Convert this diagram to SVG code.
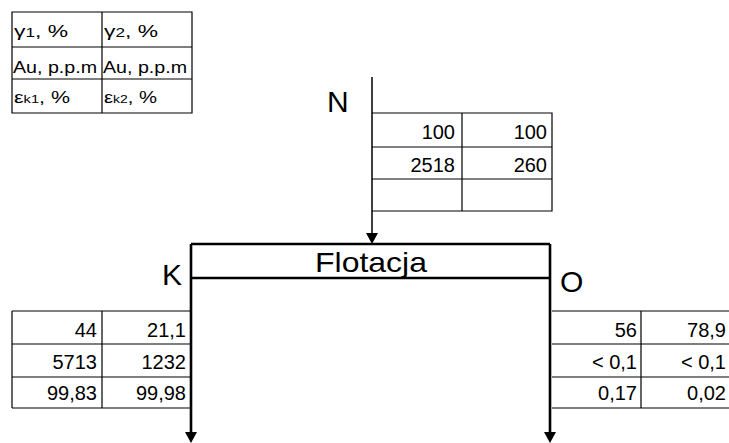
<svg xmlns="http://www.w3.org/2000/svg" width="729" height="443" viewBox="0 0 729 443">
<style>
.t{font-family:"Liberation Sans",Arial,sans-serif;fill:#000}
.num{font-size:20px;text-anchor:end}
.leg{font-size:16px}
.big{font-size:30px}
.grid{stroke:#000;stroke-width:1.2;fill:none}
.thick{stroke:#000;stroke-width:2.6;fill:none}
.arrow{fill:#000}
</style>
<rect width="729" height="443" fill="#fff"/>
<g id="legend">
<path class="grid" d="M12 12H192V113H12Z M12 47H192 M12 79H192 M102 12V113"/>
<text class="t leg" x="14" y="37" textLength="54" lengthAdjust="spacingAndGlyphs">γ<tspan font-size="12">1</tspan>, %</text>
<text class="t leg" x="104" y="37" textLength="54" lengthAdjust="spacingAndGlyphs">γ<tspan font-size="12">2</tspan>, %</text>
<text class="t leg" x="13" y="73" textLength="84" lengthAdjust="spacingAndGlyphs">Au, p.p.m</text>
<text class="t leg" x="103" y="73" textLength="84" lengthAdjust="spacingAndGlyphs">Au, p.p.m</text>
<text class="t leg" x="14" y="103" textLength="56" lengthAdjust="spacingAndGlyphs">ε<tspan font-size="11">k1</tspan>, %</text>
<text class="t leg" x="104" y="103" textLength="53" lengthAdjust="spacingAndGlyphs">ε<tspan font-size="11">k2</tspan>, %</text>
</g>
<g id="feed-N">
<text class="t big" x="327" y="112">N</text>
<path class="grid" d="M372 113H552V211H372 M372 147H552 M372 179H552 M462 113V211"/>
<text class="t num" x="455" y="139">100</text>
<text class="t num" x="547" y="139">100</text>
<text class="t num" x="455" y="172">2518</text>
<text class="t num" x="547" y="172">260</text>
</g>
<g id="flotacja">
<path class="thick" d="M191 244H550 M191 278H550 M191 244V278 M550 244V278"/>
<text class="t" x="315" y="272" font-size="28" textLength="112" lengthAdjust="spacingAndGlyphs">Flotacja</text>
</g>
<g id="output-K">
<text class="t big" x="162" y="285">K</text>
<path class="grid" d="M12 311H192 M12 344H192 M12 377H192 M12 408H192 M12 311V408 M102 311V408"/>
<text class="t num" x="97" y="337">44</text>
<text class="t num" x="186" y="337">21,1</text>
<text class="t num" x="97" y="369">5713</text>
<text class="t num" x="186" y="369">1232</text>
<text class="t num" x="97" y="400">99,83</text>
<text class="t num" x="186" y="400">99,98</text>
</g>
<g id="output-O">
<text class="t big" x="560" y="292">O</text>
<path class="grid" d="M552 311H729 M552 344H729 M552 377H729 M552 408H729 M641 311V408"/>
<text class="t num" x="637" y="337">56</text>
<text class="t num" x="726" y="337">78,9</text>
<text class="t num" x="637" y="369">&lt; 0,1</text>
<text class="t num" x="726" y="369">&lt; 0,1</text>
<text class="t num" x="637" y="400">0,17</text>
<text class="t num" x="726" y="400">0,02</text>
</g>
<g id="connectors">
<path stroke="#000" stroke-width="1.5" fill="none" d="M372 77V234"/>
<polygon class="arrow" points="366,233 378,233 372,244"/>
<path class="thick" d="M191 278V433 M550 278V433"/>
<polygon class="arrow" points="185,432 197,432 191,443"/>
<polygon class="arrow" points="544,432 556,432 550,443"/>
</g>
</svg>
